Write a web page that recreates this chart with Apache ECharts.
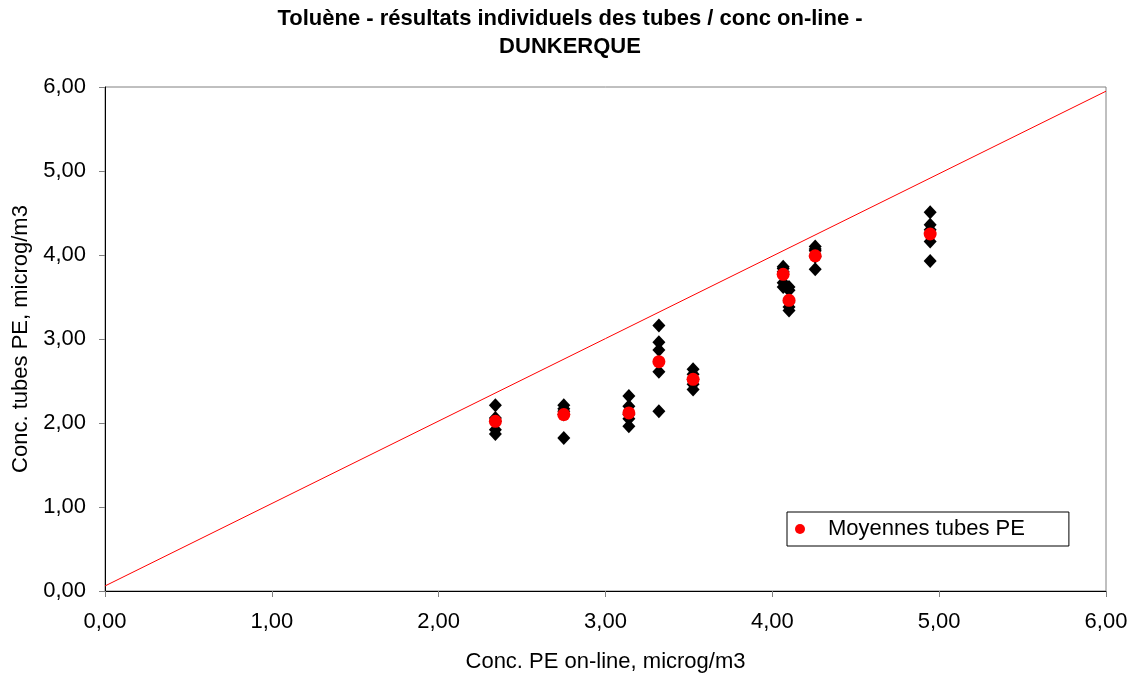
<!DOCTYPE html>
<html><head><meta charset="utf-8">
<script src="https://cdn.jsdelivr.net/npm/echarts@6/dist/echarts.min.js"></script>
<style>html,body{margin:0;padding:0;background:#fff}#c{width:1138px;height:678px}</style>
</head><body><div id="c"></div>
<script>
const titleLines = ["Toluène - résultats individuels des tubes / conc on-line -", "DUNKERQUE"];
const xName = "Conc. PE on-line, microg/m3";
const yName = "Conc. tubes PE, microg/m3";
const legendName = "Moyennes tubes PE";
// on-line concentrations (x) for each campaign
const onlineConc = [2.34, 2.75, 3.14, 3.32, 3.525, 4.065, 4.10, 4.257, 4.946];
// individual tube results (y) per campaign
const tubeValues = [
  [2.21, 2.06, 2.02, 1.92, 1.87],
  [2.21, 2.17, 2.14, 2.10, 1.82],
  [2.32, 2.20, 2.10, 2.05, 1.96],
  [3.16, 2.96, 2.87, 2.61, 2.14],
  [2.64, 2.58, 2.52, 2.46, 2.40],
  [3.86, 3.84, 3.80, 3.67, 3.62],
  [3.62, 3.58, 3.44, 3.38, 3.34],
  [4.10, 4.07, 4.05, 3.98, 3.83],
  [4.51, 4.36, 4.30, 4.16, 3.93]
];
// mean tube results per campaign
const meanValues = [2.02, 2.10, 2.12, 2.73, 2.52, 3.77, 3.46, 3.99, 4.25];
// reference line endpoints
const refLineX = [0, 6];
const refLineY = [0.06, 5.95];

const indiv = [];
onlineConc.forEach((x, i) => tubeValues[i].forEach(v => indiv.push([x, v])));
const means = onlineConc.map((x, i) => [x, meanValues[i]]);
const refLine = refLineX.map((x, i) => [x, refLineY[i]]);
const fmt = v => v.toFixed(2).replace('.', ',');
const font = 'Liberation Sans, Arial, sans-serif';

const chart = echarts.init(document.getElementById('c'), null, {renderer: 'canvas'});
chart.setOption({
  animation: false,
  backgroundColor: '#fff',
  title: {
    text: titleLines.join('\n'),
    left: 565, top: 0, textAlign: 'center',
    textStyle: {fontFamily: font, fontSize: 22, fontWeight: 'bold', color: '#000', lineHeight: 28}
  },
  grid: {left: 105, right: 32, top: 87, bottom: 86, show: true, borderColor: '#808080', borderWidth: 1, backgroundColor: 'transparent'},
  legend: {
    data: [legendName],
    left: 787, top: 512, width: 282, height: 33,
    padding: [6, 44, 6, 8],
    itemGap: 0,
    borderColor: '#000', borderWidth: 1,
    backgroundColor: '#fff',
    itemWidth: 10, itemHeight: 10, icon: 'circle',
    textStyle: {fontFamily: font, fontSize: 22, color: '#000', padding: [0, 0, 0, 18]}
  },
  xAxis: {
    type: 'value', min: 0, max: 6, interval: 1,
    name: xName, nameLocation: 'middle', nameGap: 60,
    nameTextStyle: {fontFamily: font, fontSize: 22, color: '#000'},
    axisLine: {show: true, lineStyle: {color: '#000', width: 1}},
    axisTick: {show: true, inside: false, length: 6, lineStyle: {color: '#808080'}},
    axisLabel: {formatter: fmt, fontFamily: font, fontSize: 22, color: '#000', margin: 20},
    splitLine: {show: false}
  },
  yAxis: {
    type: 'value', min: 0, max: 6, interval: 1,
    name: yName, nameLocation: 'middle', nameGap: 64,
    nameTextStyle: {fontFamily: font, fontSize: 22, color: '#000'},
    axisLine: {show: true, lineStyle: {color: '#000', width: 1}},
    axisTick: {show: true, inside: false, length: 6, lineStyle: {color: '#808080'}},
    axisLabel: {formatter: fmt, fontFamily: font, fontSize: 22, color: '#000', margin: 19},
    splitLine: {show: false}
  },
  series: [
    {
      name: 'ref', type: 'line', data: refLine, showSymbol: false, symbol: 'none',
      lineStyle: {color: '#ff0000', width: 1}, silent: true, z: 1
    },
    {
      name: 'Tubes PE', type: 'scatter', data: indiv, symbol: 'diamond', symbolSize: [13, 14],
      itemStyle: {color: '#000', opacity: 1}, z: 2
    },
    {
      name: legendName, type: 'scatter', data: means, symbol: 'circle', symbolSize: 13,
      itemStyle: {color: '#ff0000', opacity: 1}, z: 3
    }
  ]
});
</script></body></html>
